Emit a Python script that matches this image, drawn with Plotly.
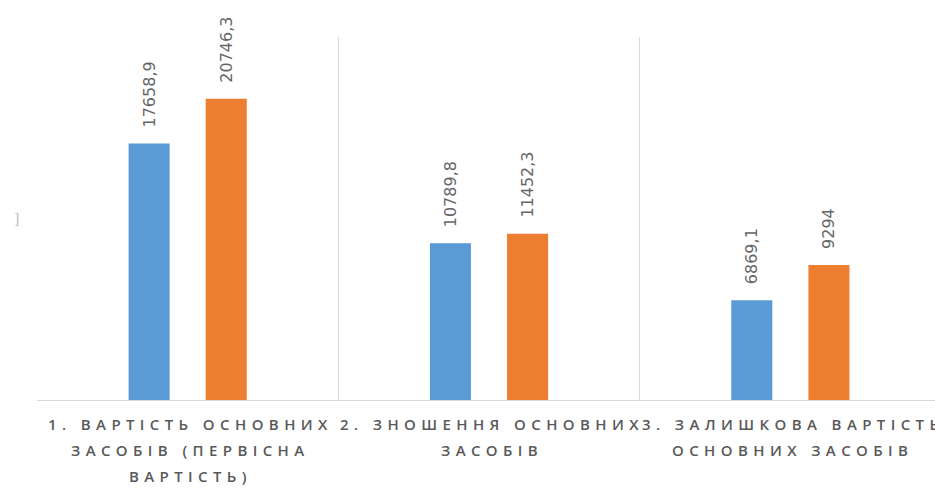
import plotly.graph_objects as go

# Categories (each split into the lines drawn under the axis)
categories = ["1. Вартість основних засобів (первісна вартість)",
              "2. Зношення основних засобів",
              "3. Залишкова вартість основних засобів"]
category_lines = [["1. ВАРТІСТЬ ОСНОВНИХ", "ЗАСОБІВ (ПЕРВІСНА", "ВАРТІСТЬ)"],
                  ["2. ЗНОШЕННЯ ОСНОВНИХ", "ЗАСОБІВ"],
                  ["3. ЗАЛИШКОВА ВАРТІСТЬ", "ОСНОВНИХ ЗАСОБІВ"]]
series_a = [17658.9, 10789.8, 6869.1]
series_b = [20746.3, 11452.3, 9294]

BLUE = "#5B9BD5"
ORANGE = "#ED7D31"
TEXT = "#595959"
LABEL = "#666666"
GRID = "#D9D9D9"


def fmt(v):
    s = f"{v:.1f}".rstrip("0").rstrip(".")
    # leading spacing lifts the rotated label off the bar top
    return "\u2002\u00a0" + s.replace(".", ",")


def spaced(s):
    # widen the tracking of the axis captions
    return "\u00a0\u200a".join(s)


fig = go.Figure()
for vals, color in [(series_a, BLUE), (series_b, ORANGE)]:
    fig.add_trace(go.Bar(
        x=categories, y=vals,
        marker=dict(color=color, line=dict(width=0)),
        text=[fmt(v) for v in vals],
        textposition="outside",
        textangle=-90,
        constraintext="none",
        cliponaxis=False,
        textfont=dict(family="DejaVu Sans", size=16, color=LABEL),
        hoverinfo="skip",
    ))

annotations = []
for cat, lines in zip(categories, category_lines):
    for j, line in enumerate(lines):
        annotations.append(dict(
            x=cat, y=0, xref="x", yref="y",
            text=spaced(line), showarrow=False,
            xanchor="center", yanchor="top",
            yshift=-12 - 26 * j,
            font=dict(family="Open Sans", size=15, weight=600, color=TEXT),
        ))
annotations.append(dict(
    x=-0.028, y=0.5, xref="paper", yref="paper", text="]",
    showarrow=False, font=dict(family="DejaVu Sans", size=14, color="#C0C0C0"),
))

fig.update_layout(
    width=935, height=488,
    margin=dict(l=37, r=0, t=37, b=88),
    paper_bgcolor="white", plot_bgcolor="white",
    showlegend=False,
    barmode="group",
    bargap=0.488, bargroupgap=0.468,
    annotations=annotations,
    xaxis=dict(
        type="category",
        range=[-0.5, 2.48],
        showticklabels=False, ticks="",
        tickson="boundaries",
        showgrid=True, gridcolor=GRID, gridwidth=1,
        showline=True, linecolor=GRID, linewidth=1,
        zeroline=False, fixedrange=True,
    ),
    yaxis=dict(
        range=[0, 25000],
        showgrid=False, showticklabels=False, ticks="",
        zeroline=False, showline=False, fixedrange=True,
    ),
)

fig.write_html("out.html")
